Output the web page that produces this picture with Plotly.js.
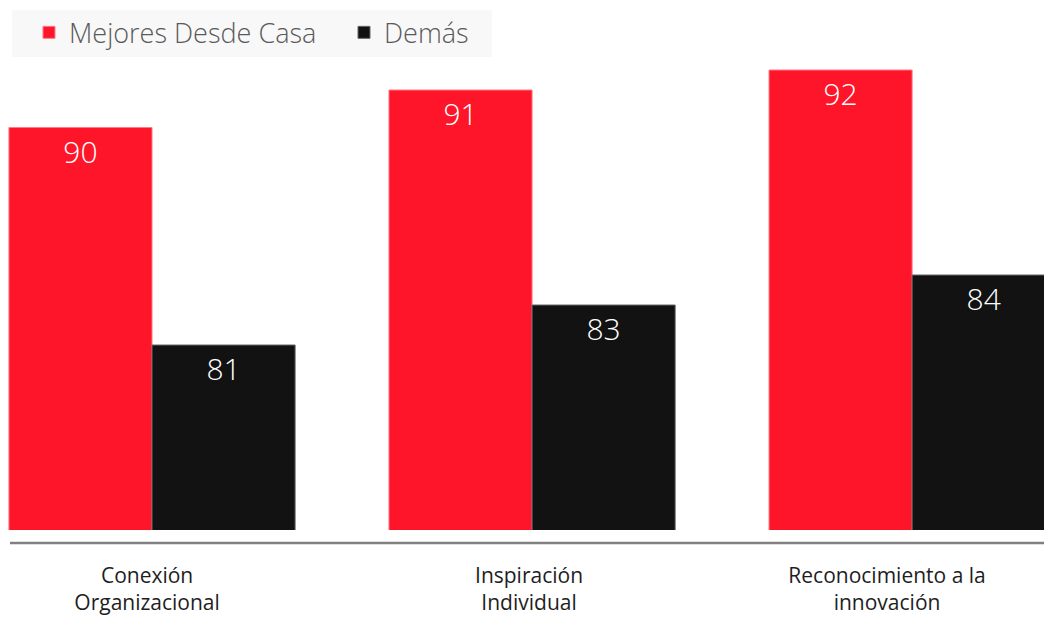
<!DOCTYPE html>
<html>
<head>
<meta charset="utf-8">
<script src="https://cdn.plot.ly/plotly-3.0.1.min.js"></script>
<style>html,body{margin:0;padding:0;background:#fff;}#chart{width:1044px;height:617px;}</style>
</head>
<body>
<div id="chart"></div>
<script>
const categories = ["Conexión<br>Organizacional", "Inspiración<br>Individual", "Reconocimiento a la<br>innovación"];
const seriesNames = ["Mejores Desde Casa", "Demás"];
const mejoresValues = [89.7, 91.2, 92.0];
const demasValues = [81.0, 82.6, 83.8];
// label centres (in category units) as they appear in the reference
const labelPositions = [-0.013, 0.992, 1.934];

const FONT = "'Open Sans', 'Noto Sans', sans-serif";

const traces = [
  {
    type: 'bar', name: seriesNames[0], x: categories, y: mejoresValues,
    marker: {color: '#FF1529', line: {color: '#FF7A86', width: 1}},
    texttemplate: '%{y:.0f}', textposition: 'inside', insidetextanchor: 'end',
    textfont: {family: FONT, size: 30, weight: 300, color: '#ffffff'},
    hoverinfo: 'skip', cliponaxis: true
  },
  {
    type: 'bar', name: seriesNames[1], x: categories, y: demasValues,
    marker: {color: '#121212', line: {color: '#666666', width: 1}},
    texttemplate: '%{y:.0f}', textposition: 'inside', insidetextanchor: 'end',
    textfont: {family: FONT, size: 30, weight: 300, color: '#ffffff'},
    hoverinfo: 'skip', cliponaxis: true
  }
];

const layout = {
  width: 1044, height: 617,
  margin: {l: 0, r: 0, t: 60, b: 87, pad: 0},
  paper_bgcolor: '#ffffff', plot_bgcolor: '#ffffff',
  font: {family: FONT, color: '#222222'},
  barmode: 'group', bargap: 0.247, bargroupgap: 0,
  showlegend: true,
  legend: {
    orientation: 'h', x: 29/1044, xanchor: 'left', y: 1.11, yanchor: 'top',
    bgcolor: 'rgba(0,0,0,0)', borderwidth: 0, entrywidth: 270,
    font: {family: FONT, size: 27, weight: 300, color: '#5a5a5a'},
    traceorder: 'normal'
  },
  xaxis: {
    type: 'category', range: [-0.4, 2.347], fixedrange: true,
    tickmode: 'array', tickvals: labelPositions, ticktext: categories,
    showline: false, showgrid: false, zeroline: false, ticks: '',
    ticklabelstandoff: 31,
    tickfont: {family: FONT, size: 21, weight: 400, color: '#1e1e1e'}
  },
  yaxis: {
    range: [73.6, 92.4], visible: false, showgrid: false, zeroline: false, fixedrange: true
  },
  shapes: [
    {type: 'rect', xref: 'paper', yref: 'paper', x0: 12/1044, x1: 492/1044, y0: (530-57)/470, y1: (530-10)/470,
     fillcolor: '#f8f8f8', line: {width: 0}, layer: 'below'},
    {type: 'line', xref: 'paper', yref: 'paper', x0: 10/1044, x1: 1, y0: -13/470, y1: -13/470,
     line: {color: '#808080', width: 2.5}}
  ]
};

Plotly.newPlot('chart', traces, layout, {displayModeBar: false, staticPlot: true});
</script>
</body>
</html>
